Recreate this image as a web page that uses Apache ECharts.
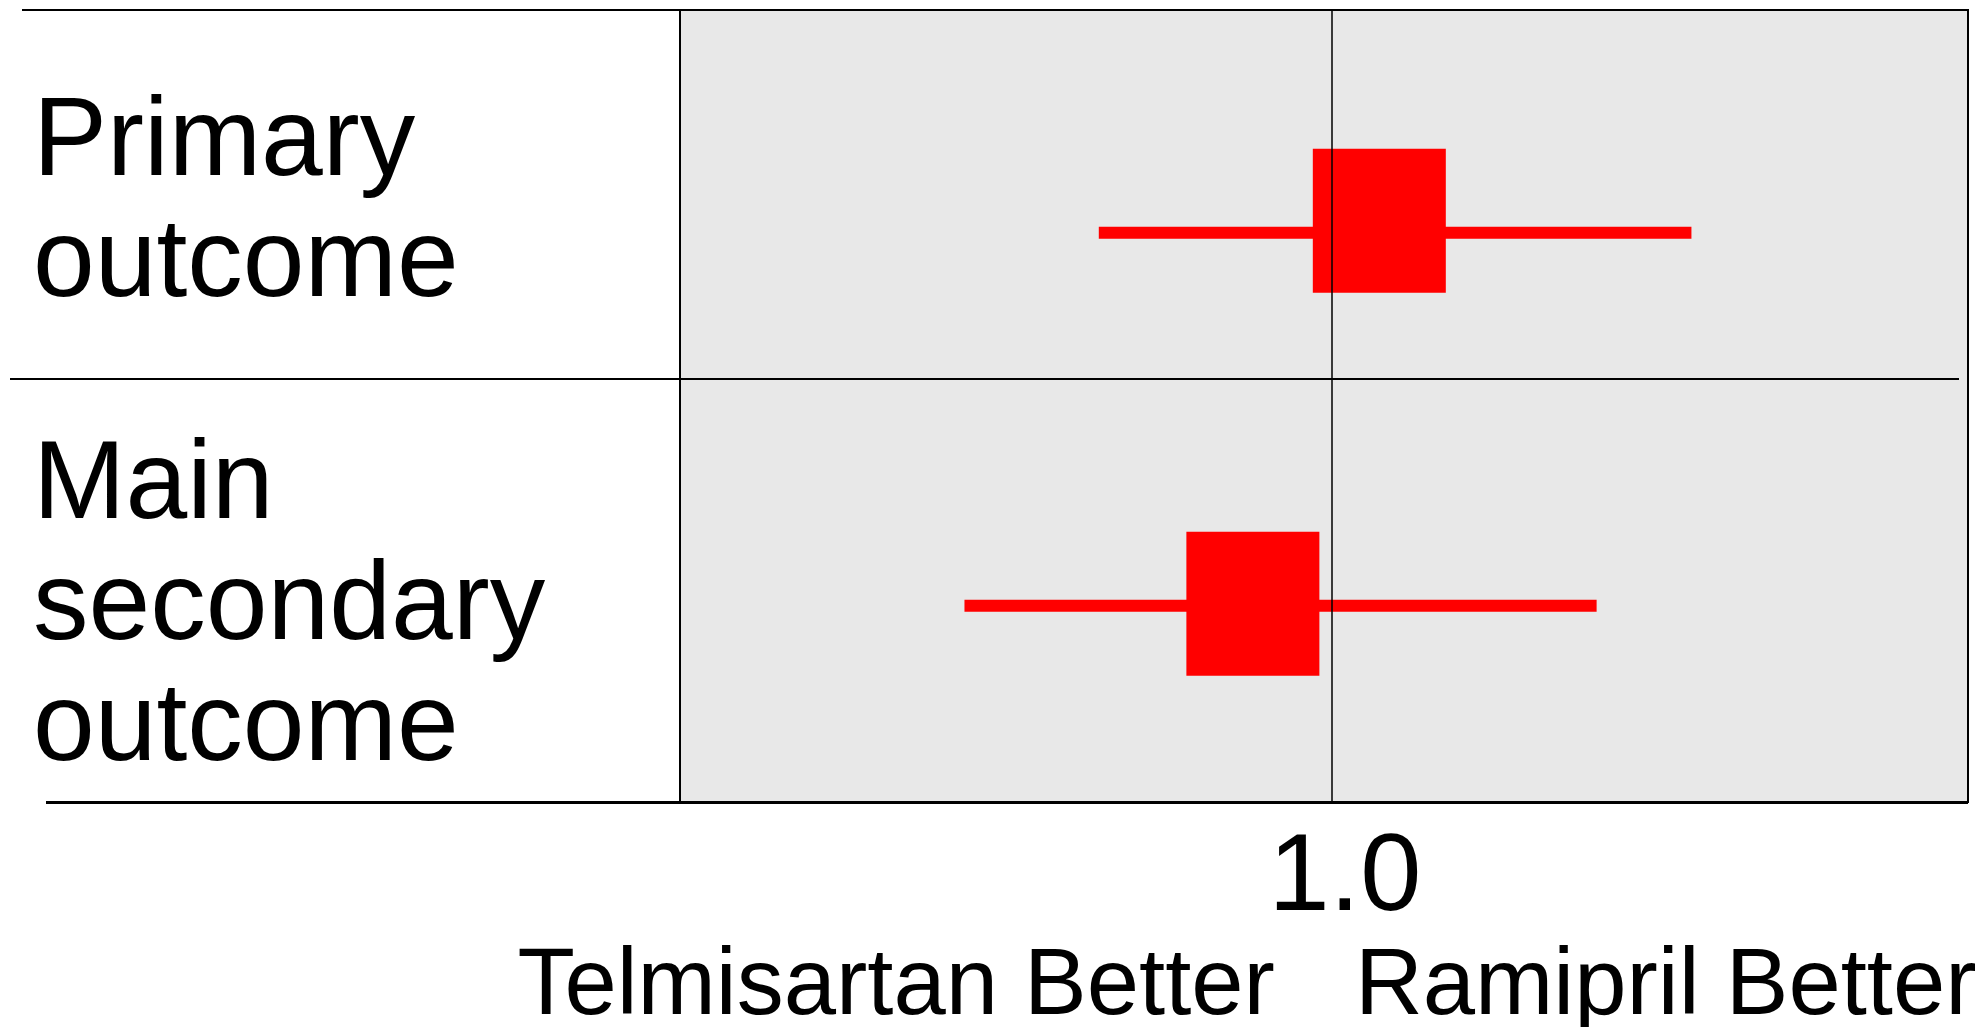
<!DOCTYPE html>
<html>
<head>
<meta charset="utf-8">
<title>Telmisartan vs Ramipril</title>
<script src="https://cdn.jsdelivr.net/npm/echarts@6/dist/echarts.min.js"></script>
<style>
  html, body { margin: 0; padding: 0; background: #ffffff; }
  #chart { width: 1984px; height: 1027px; }
</style>
</head>
<body>
<div id="chart"></div>
<script>
// Outcomes and their relative-risk estimates with confidence limits
const categories = ['Primary outcome', 'Main secondary outcome'];
const estimate = [1.012, 0.980];
const lowerCI = [0.941, 0.907];
const upperCI = [1.091, 1.067];
const tickValues = [1.0];
const sideLabels = ['Telmisartan Better', 'Ramipril Better'];

const FONT = '"Liberation Sans", Arial, Helvetica, sans-serif';

// layout of the marker squares (pixels); the first square sits a little above its whisker
const BOX_W = 133, BOX_H = 144, WHISKER_H = 12;
const boxShiftY = [-12, -2];

const chart = echarts.init(document.getElementById('chart'), null, { renderer: 'canvas' });

const seriesData = categories.map((c, i) => [i, lowerCI[i], estimate[i], upperCI[i]]);

// whisker plus square marker for each row
function renderForest(params, api) {
  const row = api.value(0);
  const lo = api.coord([api.value(1), row]);
  const mid = api.coord([api.value(2), row]);
  const hi = api.coord([api.value(3), row]);
  const shift = boxShiftY[params.dataIndex] || 0;
  return {
    type: 'group',
    children: [
      {
        type: 'rect',
        shape: { x: lo[0], y: lo[1] - WHISKER_H / 2, width: hi[0] - lo[0], height: WHISKER_H },
        style: { fill: '#ff0000' }
      },
      {
        type: 'rect',
        shape: { x: mid[0] - BOX_W / 2, y: mid[1] - BOX_H / 2 + shift, width: BOX_W, height: BOX_H },
        style: { fill: '#ff0000' }
      }
    ]
  };
}

const option = {
  animation: false,
  backgroundColor: '#ffffff',
  textStyle: { fontFamily: FONT },
  grid: {
    left: 680, right: 16, top: 10, bottom: 225,
    show: true,
    backgroundColor: '#e8e8e8',
    borderColor: '#000000',
    borderWidth: 2
  },
  xAxis: {
    type: 'value',
    min: 0.835,
    max: 1.161,
    axisLine: { show: false },
    axisTick: { show: false },
    splitLine: { show: false },
    axisLabel: {
      customValues: tickValues,
      formatter: v => v.toFixed(1),
      color: '#000000',
      fontFamily: FONT,
      fontSize: 110,
      margin: 23,
      padding: [0, 0, 0, 26]
    }
  },
  yAxis: {
    type: 'value',
    inverse: true,
    min: -0.597,
    max: 1.526,
    show: false
  },
  series: [
    {
      type: 'custom',
      renderItem: renderForest,
      encode: { x: [1, 2, 3], y: 0 },
      data: seriesData,
      z: 2,
      silent: true
    },
    {
      type: 'line',
      data: [],
      z: 5,
      markLine: {
        silent: true,
        symbol: 'none',
        label: { show: false },
        lineStyle: { color: '#000000', width: 1.5, type: 'solid' },
        data: tickValues.map(v => ({ xAxis: v }))
      }
    }
  ]
};

chart.setOption(option);

// Row labels, table rules and direction captions
const oneX = chart.convertToPixel({ xAxisIndex: 0 }, tickValues[0]);
const labelCenters = [205, 608];

const graphics = [];
categories.forEach((c, i) => {
  graphics.push({
    type: 'text',
    z: 10,
    x: 33,
    y: labelCenters[i],
    style: {
      text: c.split(' ').join('\n'),
      font: '111px ' + FONT,
      fill: '#000000',
      align: 'left',
      verticalAlign: 'middle',
      lineHeight: 121
    }
  });
});

// horizontal rules
[
  { y: 10, x1: 22, x2: 1968, w: 2 },
  { y: 379, x1: 10, x2: 1959, w: 2 },
  { y: 802.5, x1: 46, x2: 1968, w: 3 }
].forEach(r => {
  graphics.push({
    type: 'line',
    z: 10,
    shape: { x1: r.x1, y1: r.y, x2: r.x2, y2: r.y },
    style: { stroke: '#000000', lineWidth: r.w }
  });
});

graphics.push({
  type: 'text', z: 10, x: oneX - 57, y: 988,
  style: { text: sideLabels[0], font: '94px ' + FONT, fill: '#000000', align: 'right', verticalAlign: 'middle' }
});
graphics.push({
  type: 'text', z: 10, x: oneX + 23, y: 988,
  style: { text: sideLabels[1], font: '94px ' + FONT, fill: '#000000', align: 'left', verticalAlign: 'middle' }
});

chart.setOption({ graphic: graphics });
</script>
</body>
</html>
